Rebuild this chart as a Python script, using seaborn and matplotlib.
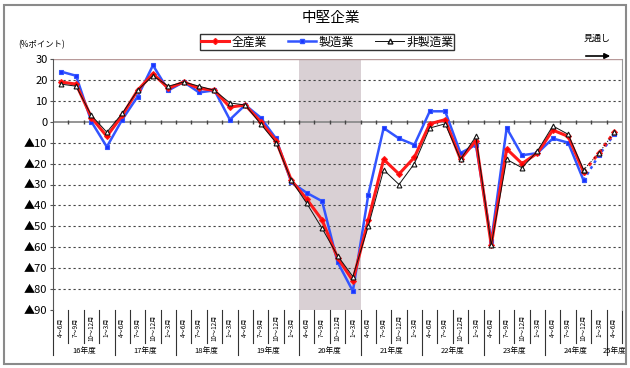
import matplotlib
matplotlib.use('Agg')
import matplotlib.pyplot as plt
import matplotlib.patches as mpatches
from matplotlib.lines import Line2D
import seaborn as sns
import pandas as pd
import numpy as np

# data (DI, %ポイント) 16年度4～6月 ... 25年度4～6月 (last 2 = 見通し)
years = ['16年度', '17年度', '18年度', '19年度', '20年度', '21年度', '22年度', '23年度', '24年度', '25年度']
quarters = ['4～6月', '7～9月', '10～12月', '1～3月']
all_ind = [19, 18, 2, -7, 3, 15, 23, 16, 19, 16, 15, 7, 8, 0, -9, -28, -37, -47, -65, -76,
           -47, -18, -25, -17, -1, 1, -18, -9, -59, -13, -20, -15, -4, -7, -24, -15, -5]
manuf = [24, 22, 0, -12, 1, 12, 27, 15, 19, 14, 15, 1, 8, 2, -8, -29, -34, -38, -67, -81,
         -35, -3, -8, -11, 5, 5, -15, -11, -57, -3, -16, -15, -8, -10, -28, -16, -6]
nonmanuf = [18, 17, 3, -5, 4, 15, 22, 17, 19, 17, 15, 9, 8, -1, -10, -28, -39, -51, -64, -74,
            -50, -23, -30, -20, -3, -1, -18, -7, -59, -18, -22, -14, -2, -6, -23, -15, -5]
n_actual = 35  # points up to 24年度10～12月 are actual, rest forecast
yticks = [30, 20, 10, 0, -10, -20, -30, -40, -50, -60, -70, -80, -90]

labels = [q for y in years[:-1] for q in quarters] + [quarters[0]]
pos = np.arange(len(labels))

plt.rcParams['font.family'] = ['Noto Sans CJK JP', 'DejaVu Sans']

fig = plt.figure(figsize=(6.3, 3.68), dpi=100)
ax = fig.add_axes([53 / 630, 1 - 310 / 368, 569 / 630, 251 / 368])

# shaded 20年度
ax.axvspan(15.5, 19.5, color='#d9d0d4', zorder=0, lw=0)

# grid
for v in yticks:
    if v == 0:
        ax.axhline(0, color='#8c8c8c', lw=1.3, zorder=1)
    elif v == 30:
        ax.axhline(v, color='#b89a9a', lw=1.0, zorder=1)
    elif v != -90:
        ax.axhline(v, color='#444444', lw=0.8, ls=(0, (2, 2.5)), zorder=1)

series = [
    ('製造業', manuf, '#3355ff', 's', 1.8, 3.5, '#1a33ff'),
    ('全産業', all_ind, '#ff1a1a', 'D', 2.2, 3.0, '#ff0000'),
    ('非製造業', nonmanuf, '#111111', '^', 0.7, 3.5, 'white'),
]
for name, vals, col, mk, lw, ms, fc in series:
    sns.lineplot(x=pos[:n_actual], y=vals[:n_actual], ax=ax, color=col, lw=lw,
                 marker=mk, markersize=ms, markerfacecolor=fc, markeredgecolor=col,
                 markeredgewidth=0.8, estimator=None, zorder=3)
    sns.lineplot(x=pos[n_actual - 1:], y=vals[n_actual - 1:], ax=ax, color=col, lw=lw,
                 ls=(0, (1.2, 1.5)), marker=mk, markersize=ms, markerfacecolor=fc,
                 markeredgecolor=col, markeredgewidth=0.8, estimator=None, zorder=3)

ax.set_xlim(-0.5, len(labels) - 0.5)
ax.set_ylim(-90, 30)
ax.set_yticks(yticks)
ax.set_yticklabels([str(v) if v >= 0 else '▲' + str(-v) for v in yticks], fontsize=8)
ax.tick_params(axis='y', length=2, color='#555555', pad=2)
ax.set_xticks([])
ax.set_xlabel('')
ax.set_ylabel('')
for s in ['top', 'bottom']:
    ax.spines[s].set_visible(False)
ax.spines['left'].set_color('#555555')
ax.spines['right'].set_color('#999999')

# small ticks on the zero line
ax.plot(pos[:-1] + 0.5, [0] * (len(pos) - 1), ls='none', marker='|', markersize=2.5,
        color='#444444', zorder=2)

# category axis below the plot
xt = ax.get_xaxis_transform()
for b in range(len(labels) + 1):
    xb = b - 0.5
    low = -0.18 if b % 4 == 0 else -0.13
    ax.plot([xb, xb], [0, low], transform=xt, color='#333333', lw=0.8, clip_on=False)
for i, lab in enumerate(labels):
    ax.text(i, -0.07, lab, transform=xt, rotation=90, ha='center', va='center', fontsize=4.5)
for k, yr in enumerate(years):
    xc = k * 4 + 1.5 if k < len(years) - 1 else k * 4
    ax.text(xc, -0.165, yr, transform=xt, ha='center', va='center', fontsize=5.5)

# titles and notes
fig.text(0.525, 1 - 18 / 368, '中堅企業', ha='center', va='center', fontsize=10.5)
fig.text(42 / 630, 1 - 45 / 368, '(%ポイント)', ha='center', va='center', fontsize=6)
fig.text(597 / 630, 1 - 38 / 368, '見通し', ha='center', va='center', fontsize=6.5)
fig.add_artist(mpatches.FancyArrowPatch((583 / 630, 1 - 56 / 368), (613 / 630, 1 - 56 / 368),
                                        transform=fig.transFigure, arrowstyle='-|>',
                                        mutation_scale=8, color='black', lw=1.2))

handles = [
    Line2D([], [], color='#ff1a1a', lw=2.2, marker='D', markersize=3, markerfacecolor='#ff0000'),
    Line2D([], [], color='#3355ff', lw=1.8, marker='s', markersize=3.5, markerfacecolor='#1a33ff'),
    Line2D([], [], color='#111111', lw=0.7, marker='^', markersize=3.5, markerfacecolor='white'),
]
leg = fig.legend(handles, ['全産業', '製造業', '非製造業'], loc='center', ncol=3,
                 bbox_to_anchor=(327 / 630, 1 - 42 / 368), fontsize=8.5, frameon=True,
                 fancybox=False, edgecolor='black', handlelength=2.4, handletextpad=0.2,
                 columnspacing=1.8, borderpad=0.12, borderaxespad=0)
leg.get_frame().set_linewidth(1.0)

# outer frame
fig.add_artist(mpatches.Rectangle((4 / 630, 4 / 368), 622 / 630, 359 / 368,
                                  transform=fig.transFigure, fill=False,
                                  edgecolor='#8a8a8a', lw=1.5))

fig.savefig('out.png', dpi=100)
